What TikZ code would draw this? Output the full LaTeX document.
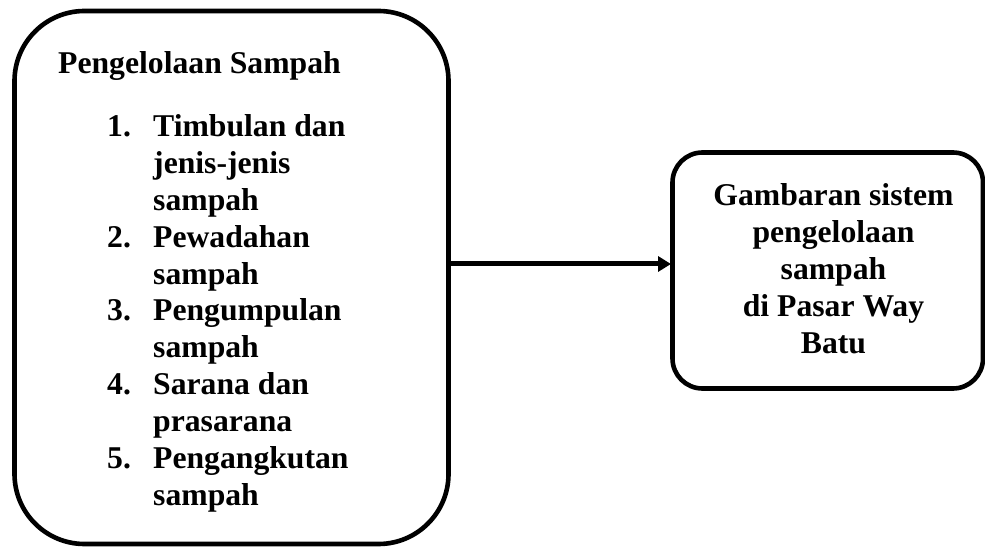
\documentclass[tikz,border=0pt]{standalone}
\usepackage{fontspec}
\setmainfont{Liberation Serif}
\usetikzlibrary{arrows.meta}
\tikzset{
  box/.style={draw=black, line width=4.6bp, fill=white, inner sep=0pt},
  txt/.style={anchor=base west, inner sep=0pt, font=\fontsize{31.8}{36.8}\selectfont\bfseries},
  ctxt/.style={anchor=base, inner sep=0pt, font=\fontsize{31.8}{36.8}\selectfont\bfseries},
  conn/.style={line width=5bp, -{Triangle[length=13bp,width=15bp]}}
}
\begin{document}
\begin{tikzpicture}[x=1bp,y=-1bp]
\useasboundingbox (0,0) rectangle (985,549);
\node[box, rounded corners=70bp, minimum width=434bp, minimum height=533bp] (lb) at (231.5,277.5) {};
\node[box, rounded corners=30bp, minimum width=310.5bp, minimum height=236bp] (rb) at (827.75,270.5) {};
\coordinate (a1) at (448.5,264);
\coordinate (a2) at (671,264);
\draw[conn] (a1) -- (a2);
% left text
\node[txt] (t0) at (58,74) {Pengelolaan Sampah};
\node[txt] (n1) at (107,137) {1.};
\node[txt] (l1) at (153,137) {Timbulan dan};
\node[txt] (l2) at (153,173.8) {jenis-jenis};
\node[txt] (l3) at (153,210.6) {sampah};
\node[txt] (n2) at (107,247.4) {2.};
\node[txt] (l4) at (153,247.4) {Pewadahan};
\node[txt] (l5) at (153,284.2) {sampah};
\node[txt] (n3) at (107,321) {3.};
\node[txt] (l6) at (153,321) {Pengumpulan};
\node[txt] (l7) at (153,357.8) {sampah};
\node[txt] (n4) at (107,394.6) {4.};
\node[txt] (l8) at (153,394.6) {Sarana dan};
\node[txt] (l9) at (153,431.4) {prasarana};
\node[txt] (n5) at (107,468.2) {5.};
\node[txt] (l10) at (153,468.2) {Pengangkutan};
\node[txt] (l11) at (153,505) {sampah};
% right text
\node[ctxt] (r1) at (833.5,206) {Gambaran sistem};
\node[ctxt] (r2) at (833.5,242.8) {pengelolaan};
\node[ctxt] (r3) at (833.5,279.6) {sampah};
\node[ctxt] (r4) at (833.5,316.4) {di Pasar Way};
\node[ctxt] (r5) at (833.5,353.2) {Batu};
\end{tikzpicture}
\end{document}
